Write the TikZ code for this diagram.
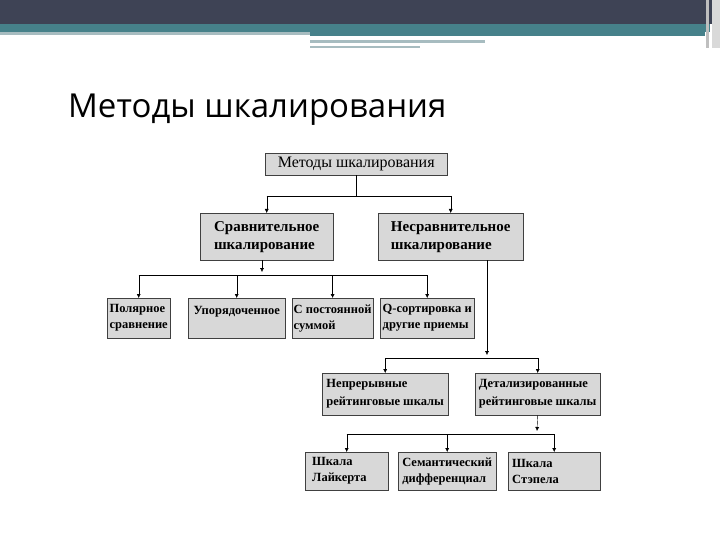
\documentclass[tikz,border=0pt]{standalone}
\usepackage{fontspec}
\setmainfont{Liberation Serif}
\newfontfamily\titlefont{Open Sans}
\usetikzlibrary{arrows.meta, calc}
\definecolor{bardark}{HTML}{3E4355}
\definecolor{barteal}{HTML}{46818A}
\definecolor{barpale}{HTML}{A7BCC0}
\definecolor{boxgray}{HTML}{D8D8D8}
\definecolor{boxline}{HTML}{404040}

\begin{document}
\begin{tikzpicture}[
    x=1pt, y=-1pt,
    box/.style={draw=boxline, fill=boxgray, anchor=north west, inner sep=1.5pt, align=left, font=\bfseries\fontsize{12.5}{16}\selectfont},
    bigbox/.style={box, font=\bfseries\fontsize{15}{18}\selectfont},
    midbox/.style={box, font=\bfseries\fontsize{12.5}{18}\selectfont},
    arr/.style={-{Latex[length=4pt, width=4pt]}, black},
    bus/.style={black},
]
    \useasboundingbox (0,0) rectangle (720,540);

    % Slide header
    \fill[bardark] (0,0) rectangle (720,24);
    \fill[barteal] (0,24) rectangle (710,32);
    \fill[barteal] (310,32) rectangle (705,36);
    \fill[barpale] (0,32) rectangle (310,35);
    \fill[barpale] (310,40) rectangle (485,43);
    \fill[barpale] (310,46) rectangle (420,48);
    \fill[black!25] (706,0) rectangle (709,48);
    \fill[black!15] (712,0) rectangle (720,48);

    % Title
    \node[anchor=base west, inner sep=0pt, font=\titlefont\fontsize{33}{40}\selectfont] (title) at (68,118) {Методы шкалирования};

    % Boxes
    \node[box, font=\fontsize{16}{18}\selectfont, minimum width=182, minimum height=22] (root) at (265,153) {Методы шкалирования};

    \node[bigbox, minimum width=133, minimum height=47] (cmp) at (200,213) {Сравнительное\\шкалирование};
    \node[bigbox, minimum width=145, minimum height=47] (ncmp) at (378,213) {Несравнительное\\шкалирование};

    \node[box, minimum width=63, minimum height=40] (pol) at (107,298) {Полярное\\сравнение};
    \node[box, minimum width=97, minimum height=40] (ord) at (188,298) {Упорядоченное\\\mbox{}};
    \node[box, minimum width=80, minimum height=40] (sum) at (292,298) {С постоянной\\суммой};
    \node[box, minimum width=94, minimum height=40] (qsort) at (380,298) {Q-сортировка и\\другие приемы};

    \node[midbox, minimum width=126, minimum height=42] (cont) at (322,373) {Непрерывные\\рейтинговые шкалы};
    \node[midbox, minimum width=125, minimum height=42] (item) at (475,373) {Детализированные\\рейтинговые шкалы};

    \node[box, text width=69, minimum width=83, minimum height=38] (likert) at (305,452) {Шкала\\Лайкерта};
    \node[box, minimum width=98, minimum height=38] (sem) at (398,452) {Семантический\\дифференциал};
    \node[box, text width=84, minimum width=92, minimum height=38] (stapel) at (508,452) {Шкала\\Стэпела};

    % Bus lines
    \coordinate (b1) at (349,196);
    \coordinate (b2) at (262,275);
    \coordinate (b3) at (487,358);
    \coordinate (b4) at (537,434);

    \draw[bus] (root.south) -- (root.south |- b1);
    \draw[bus] (cmp.north |- b1) -- (ncmp.north |- b1);
    \draw[arr] (cmp.north |- b1) -- (cmp.north);
    \draw[arr] (ncmp.north |- b1) -- (ncmp.north);

    \draw[arr] (cmp.south -| b2) -- ([yshift=3]b2);
    \draw[bus] (pol.north |- b2) -- (qsort.north |- b2);
    \foreach \n in {pol, ord, sum, qsort}
        \draw[arr] (\n.north |- b2) -- (\n.north);

    \draw[arr] (ncmp.south -| b3) -- ([yshift=3]b3);
    \draw[bus] (cont.north |- b3) -- (item.north |- b3);
    \draw[arr] (cont.north |- b3) -- (cont.north);
    \draw[arr] (item.north |- b3) -- (item.north);

    \draw[arr] (item.south) -- ([yshift=3]b4);
    \draw[bus] (likert.north |- b4) -- (stapel.north |- b4);
    \foreach \n in {likert, sem, stapel}
        \draw[arr] (\n.north |- b4) -- (\n.north);
\end{tikzpicture}
\end{document}
